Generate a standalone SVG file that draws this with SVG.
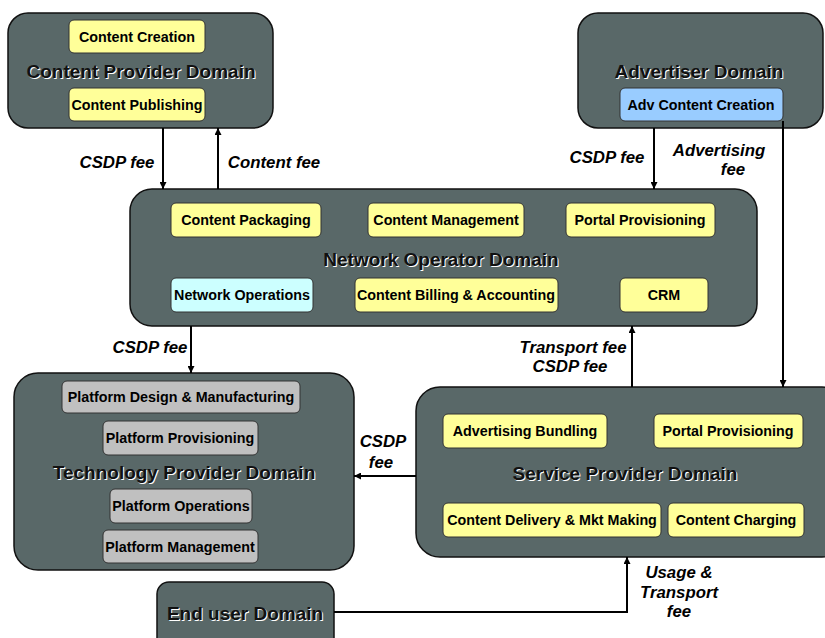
<svg xmlns="http://www.w3.org/2000/svg" width="825" height="638" viewBox="0 0 825 638">
<defs>
<marker id="ah" viewBox="0 0 10 10" refX="10" refY="5" markerWidth="7" markerHeight="7" markerUnits="userSpaceOnUse" orient="auto">
<path d="M0,0 L10,5 L0,10 z" fill="#000"/>
</marker>
<style>
.dom{fill:#596868;stroke:#111;stroke-width:1.5}
.box{stroke:#333;stroke-width:1}
.y{fill:#ffff99}
.b{fill:#99ccff}
.c{fill:#ccffff}
.g{fill:#c0c0c0}
.bt{font-family:"Liberation Sans",Arial,sans-serif;font-weight:bold;font-size:14.3px;fill:#000;text-anchor:middle}
.tt{font-family:"Liberation Sans",Arial,sans-serif;font-weight:bold;font-size:19px;text-anchor:middle}
.ts{fill:#fff}
.tf{fill:#111}
.lb{font-family:"Liberation Sans",Arial,sans-serif;font-weight:bold;font-style:italic;font-size:16.8px;fill:#000;text-anchor:middle}
.cn{fill:none;stroke:#000;stroke-width:2}
</style>
</defs>
<rect width="825" height="638" fill="#fff"/>

<g id="content-provider">
<rect class="dom" x="8" y="13" width="265" height="115" rx="20"/>
<rect class="box y" x="69" y="20" width="136" height="33" rx="5"/>
<text class="bt" x="137" y="42">Content Creation</text>
<text class="tt ts" x="142" y="79">Content Provider Domain</text>
<text class="tt tf" x="141" y="78">Content Provider Domain</text>
<rect class="box y" x="69" y="88" width="136" height="33" rx="5"/>
<text class="bt" x="137" y="110">Content Publishing</text>
</g>

<g id="advertiser">
<rect class="dom" x="578" y="13" width="245" height="115" rx="20"/>
<text class="tt ts" x="700" y="79">Advertiser Domain</text>
<text class="tt tf" x="699" y="78">Advertiser Domain</text>
<rect class="box b" x="620" y="88" width="163" height="33" rx="5"/>
<text class="bt" x="701" y="110">Adv Content Creation</text>
</g>

<g id="network-operator">
<rect class="dom" x="130" y="189" width="627" height="137" rx="22"/>
<rect class="box y" x="171" y="203" width="150" height="34" rx="5"/>
<text class="bt" x="246" y="225">Content Packaging</text>
<rect class="box y" x="368" y="203" width="156" height="34" rx="5"/>
<text class="bt" x="446" y="225">Content Management</text>
<rect class="box y" x="566" y="203" width="149" height="34" rx="5"/>
<text class="bt" x="640" y="225">Portal Provisioning</text>
<text class="tt ts" x="442" y="267">Network Operator Domain</text>
<text class="tt tf" x="441" y="266">Network Operator Domain</text>
<rect class="box c" x="171" y="278" width="142" height="34" rx="5"/>
<text class="bt" x="242" y="300">Network Operations</text>
<rect class="box y" x="355" y="278" width="203" height="34" rx="5"/>
<text class="bt" x="456" y="300">Content Billing &amp; Accounting</text>
<rect class="box y" x="620" y="278" width="88" height="34" rx="5"/>
<text class="bt" x="664" y="300">CRM</text>
</g>

<g id="technology-provider">
<rect class="dom" x="14" y="373" width="340" height="197" rx="24"/>
<rect class="box g" x="62" y="381" width="238" height="32" rx="5"/>
<text class="bt" x="181" y="402">Platform Design &amp; Manufacturing</text>
<rect class="box g" x="103" y="421" width="155" height="34" rx="5"/>
<text class="bt" x="180" y="443">Platform Provisioning</text>
<text class="tt ts" x="185" y="480">Technology Provider Domain</text>
<text class="tt tf" x="184" y="479">Technology Provider Domain</text>
<rect class="box g" x="110" y="489" width="142" height="34" rx="5"/>
<text class="bt" x="181" y="511">Platform Operations</text>
<rect class="box g" x="103" y="530" width="155" height="33" rx="5"/>
<text class="bt" x="180" y="552">Platform Management</text>
</g>

<g id="service-provider">
<rect class="dom" x="416" y="387" width="430" height="170" rx="24"/>
<rect class="box y" x="443" y="414" width="164" height="34" rx="5"/>
<text class="bt" x="525" y="436">Advertising Bundling</text>
<rect class="box y" x="654" y="414" width="149" height="34" rx="5"/>
<text class="bt" x="728" y="436">Portal Provisioning</text>
<text class="tt ts" x="626" y="481">Service Provider Domain</text>
<text class="tt tf" x="625" y="480">Service Provider Domain</text>
<rect class="box y" x="443" y="503" width="218" height="34" rx="5"/>
<text class="bt" x="552" y="525">Content Delivery &amp; Mkt Making</text>
<rect class="box y" x="668" y="503" width="136" height="34" rx="5"/>
<text class="bt" x="736" y="525">Content Charging</text>
</g>

<g id="end-user">
<rect class="dom" x="157" y="582" width="177" height="80" rx="12"/>
<text class="tt ts" x="246" y="621">End user Domain</text>
<text class="tt tf" x="245" y="620">End user Domain</text>
</g>

<g id="connectors">
<line class="cn" x1="163" y1="128" x2="163" y2="189" marker-end="url(#ah)"/>
<line class="cn" x1="218" y1="189" x2="218" y2="128" marker-end="url(#ah)"/>
<line class="cn" x1="654" y1="128" x2="654" y2="189" marker-end="url(#ah)"/>
<line class="cn" x1="783" y1="121" x2="783" y2="387" marker-end="url(#ah)"/>
<line class="cn" x1="191" y1="326" x2="191" y2="373" marker-end="url(#ah)"/>
<line class="cn" x1="632" y1="387" x2="632" y2="326" marker-end="url(#ah)"/>
<line class="cn" x1="416" y1="476" x2="354" y2="476" marker-end="url(#ah)"/>
<polyline class="cn" points="334,612 627,612 627,557" marker-end="url(#ah)"/>
<text class="lb" x="117" y="168">CSDP fee</text>
<text class="lb" x="274" y="168">Content fee</text>
<text class="lb" x="607" y="163">CSDP fee</text>
<text class="lb" x="719" y="156">Advertising</text>
<text class="lb" x="733" y="175">fee</text>
<text class="lb" x="150" y="353">CSDP fee</text>
<text class="lb" x="573" y="353">Transport fee</text>
<text class="lb" x="570" y="372">CSDP fee</text>
<text class="lb" x="383" y="447">CSDP</text>
<text class="lb" x="381" y="468">fee</text>
<text class="lb" x="679" y="578">Usage &amp;</text>
<text class="lb" x="679" y="598">Transport</text>
<text class="lb" x="679" y="617">fee</text>
</g>
</svg>
